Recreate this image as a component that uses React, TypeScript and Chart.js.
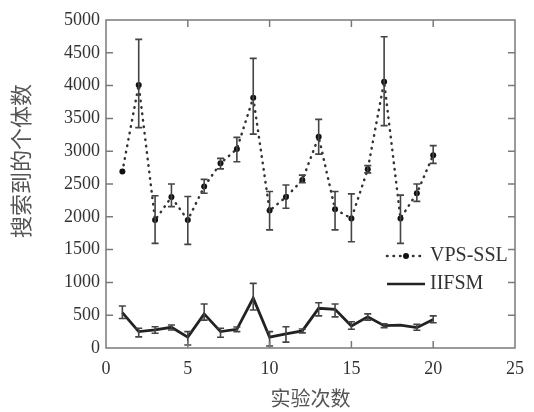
import React, { useEffect, useRef } from "react";
import { Chart, registerables } from "chart.js";

Chart.register(...registerables);

const runs = [1, 2, 3, 4, 5, 6, 7, 8, 9, 10, 11, 12, 13, 14, 15, 16, 17, 18, 19, 20];
const vpsMean = [2690, 4010, 1950, 2300, 1950, 2460, 2815, 3035, 3815, 2095, 2300, 2560, 3220, 2115, 1975, 2725, 4060, 1975, 2360, 2940];
const vpsLow = [2690, 3360, 1595, 2155, 1580, 2360, 2730, 2840, 3260, 1800, 2130, 2520, 2955, 1800, 1620, 2670, 3390, 1595, 2235, 2815];
const vpsHigh = [2690, 4705, 2320, 2500, 2310, 2570, 2890, 3210, 4415, 2385, 2485, 2635, 3485, 2385, 2350, 2780, 4745, 2330, 2500, 3085];
const iifsmMean = [540, 250, 275, 315, 165, 520, 250, 285, 760, 165, 215, 260, 605, 590, 335, 475, 340, 350, 310, 435];
const iifsmLow = [450, 170, 225, 275, 45, 425, 165, 250, 580, 30, 90, 230, 490, 475, 285, 425, 310, 350, 270, 385];
const iifsmHigh = [640, 300, 325, 350, 250, 670, 300, 320, 985, 250, 325, 290, 690, 670, 400, 520, 370, 350, 360, 490];
const xTicks = [0, 5, 10, 15, 20, 25];
const yTicks = [0, 500, 1000, 1500, 2000, 2500, 3000, 3500, 4000, 4500, 5000];
const seriesNames = ["VPS-SSL", "IIFSM"];
const xTitle = "实验次数";
const yTitle = "搜索到的个体数";

const SERIF = "'Liberation Serif', 'DejaVu Serif', serif";
const CJK = "'Noto Sans CJK SC', sans-serif";

Chart.defaults.font.family = SERIF;

const framePlugin = {
  id: "frame",
  afterDraw(chart: any) {
    const { ctx, chartArea: a, scales } = chart;
    ctx.save();
    ctx.strokeStyle = "#7a7a7a";
    ctx.lineWidth = 1.5;
    ctx.strokeRect(a.left, a.top, a.right - a.left, a.bottom - a.top);
    const tl = 7;
    ctx.beginPath();
    xTicks.slice(1, -1).forEach((v) => {
      const px = scales.x.getPixelForValue(v);
      ctx.moveTo(px, a.bottom);
      ctx.lineTo(px, a.bottom - tl);
      ctx.moveTo(px, a.top);
      ctx.lineTo(px, a.top + tl);
    });
    yTicks.slice(1, -1).forEach((v) => {
      const py = scales.y.getPixelForValue(v);
      ctx.moveTo(a.left, py);
      ctx.lineTo(a.left + tl, py);
      ctx.moveTo(a.right, py);
      ctx.lineTo(a.right - tl, py);
    });
    ctx.stroke();

    // y title
    ctx.fillStyle = "#555";
    ctx.font = `22px ${CJK}`;
    ctx.textAlign = "center";
    ctx.textBaseline = "middle";
    ctx.translate(21, 161);
    ctx.rotate(-Math.PI / 2);
    ctx.fillText(yTitle, 0, 0);
    ctx.restore();

    // legend
    ctx.save();
    const lx0 = 387, lx1 = 425, tx = 430;
    const y1 = 256, y2 = 284;
    ctx.strokeStyle = "#333";
    ctx.lineWidth = 2.5;
    ctx.lineCap = "round";
    ctx.setLineDash([0.5, 6]);
    ctx.beginPath();
    ctx.moveTo(lx0, y1);
    ctx.lineTo(lx1, y1);
    ctx.stroke();
    ctx.setLineDash([]);
    ctx.fillStyle = "#111";
    ctx.beginPath();
    ctx.arc((lx0 + lx1) / 2, y1, 3, 0, Math.PI * 2);
    ctx.fill();
    ctx.strokeStyle = "#222";
    ctx.lineCap = "butt";
    ctx.beginPath();
    ctx.moveTo(lx0, y2);
    ctx.lineTo(lx1, y2);
    ctx.stroke();
    ctx.fillStyle = "#333";
    ctx.font = `20px ${SERIF}`;
    ctx.textAlign = "left";
    ctx.textBaseline = "middle";
    ctx.fillText(seriesNames[0], tx, y1);
    ctx.fillText(seriesNames[1], tx, y2);
    ctx.restore();
  },
};

const errorBarPlugin = {
  id: "errorBars",
  afterDatasetsDraw(chart: any) {
    const { ctx, scales } = chart;
    const sets = [
      [vpsLow, vpsHigh],
      [iifsmLow, iifsmHigh],
    ];
    ctx.save();
    ctx.strokeStyle = "#444";
    ctx.lineWidth = 1.6;
    const cap = 3.5;
    sets.forEach(([lo, hi]) => {
      runs.forEach((r, i) => {
        if (hi[i] - lo[i] < 1) return;
        const px = scales.x.getPixelForValue(r);
        const pl = scales.y.getPixelForValue(lo[i]);
        const ph = scales.y.getPixelForValue(hi[i]);
        ctx.beginPath();
        ctx.moveTo(px, pl);
        ctx.lineTo(px, ph);
        ctx.moveTo(px - cap, pl);
        ctx.lineTo(px + cap, pl);
        ctx.moveTo(px - cap, ph);
        ctx.lineTo(px + cap, ph);
        ctx.stroke();
      });
    });
    ctx.restore();
  },
};

export default function App() {
  const ref = useRef<HTMLCanvasElement | null>(null);
  useEffect(() => {
    if (!ref.current) return;
    const chart = new Chart(ref.current, {
      type: "line",
      data: {
        datasets: [
          {
            label: seriesNames[0],
            data: runs.map((r, i) => ({ x: r, y: vpsMean[i] })),
            borderColor: "#333",
            borderWidth: 2.5,
            borderDash: [0.5, 6],
            borderCapStyle: "round",
            pointRadius: 3,
            pointBackgroundColor: "#111",
            pointBorderWidth: 0,
            tension: 0,
          },
          {
            label: seriesNames[1],
            data: runs.map((r, i) => ({ x: r, y: iifsmMean[i] })),
            borderColor: "#222",
            borderWidth: 2.8,
            pointRadius: 0,
            tension: 0,
          },
        ],
      },
      options: {
        animation: false,
        responsive: true,
        maintainAspectRatio: false,
        layout: { padding: { left: 0, right: 11, top: 20, bottom: 0 } },
        plugins: { legend: { display: false }, tooltip: { enabled: false } },
        scales: {
          x: {
            type: "linear",
            min: 0,
            max: 25,
            afterBuildTicks: (s: any) => {
              s.ticks = xTicks.map((v) => ({ value: v }));
            },
            afterFit: (s: any) => {
              s.height = 64;
            },
            grid: { display: false, drawTicks: false },
            border: { display: false },
            ticks: {
              font: { size: 18, family: SERIF },
              color: "#333",
              padding: 10,
              maxRotation: 0,
              callback: (v: any) => String(v),
            },
            title: {
              display: true,
              text: xTitle,
              font: { size: 20, family: CJK },
              color: "#555",
              padding: { top: 0, bottom: 2 },
            },
          },
          y: {
            min: 0,
            max: 5000,
            afterBuildTicks: (s: any) => {
              s.ticks = yTicks.map((v) => ({ value: v }));
            },
            afterFit: (s: any) => {
              s.width = 106;
            },
            grid: { display: false, drawTicks: false },
            border: { display: false },
            ticks: {
              font: { size: 18, family: SERIF },
              color: "#333",
              padding: 6,
              callback: (v: any) => String(v),
            },
          },
        },
      },
      plugins: [errorBarPlugin, framePlugin],
    } as any);
    return () => chart.destroy();
  }, []);
  return (
    <div style={{ position: "absolute", left: 0, top: 0, width: 534, height: 412, background: "#fff" }}>
      <canvas ref={ref} />
    </div>
  );
}
